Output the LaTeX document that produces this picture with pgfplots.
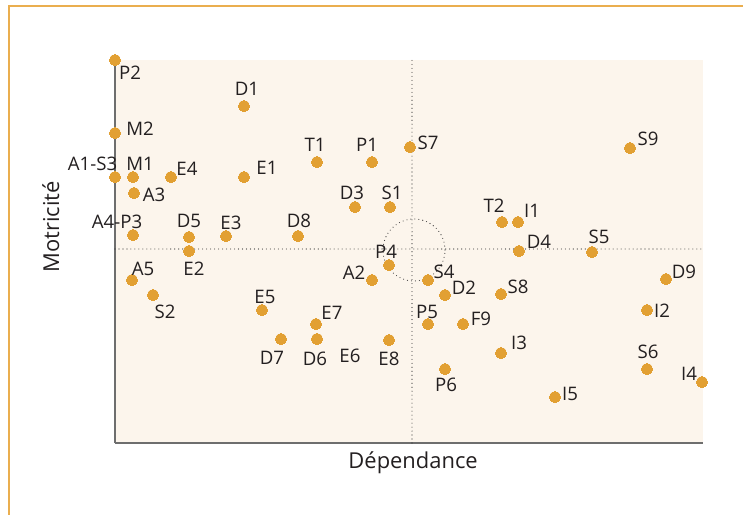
\documentclass[border=0pt]{standalone}
\usepackage{fontspec}
\setmainfont{Open Sans}
\usepackage{pgfplots}
\usepackage{pgfplotstable}
\pgfplotsset{compat=1.18}
\definecolor{dotc}{RGB}{226,160,51}
\definecolor{cream}{RGB}{252,245,236}
\definecolor{framec}{RGB}{234,174,79}
\definecolor{axisgray}{RGB}{110,110,110}
\definecolor{txt}{RGB}{35,31,32}
\definecolor{dotline}{RGB}{51,51,51}
\pgfplotstableread{
name x y lx ly
P2 0 383 15 370
D1 129 337 132 354
M2 0 310 25 314
A1-S3 0 266 -22.5 279
M1 18 266 25 279
E4 56 266 72 274
E1 129 266 152 275
A3 19 250 39 248
A4-P3 18 208 2 221
D5 74 206 74 222
E3 111 207 116 220
D8 183 207 184 222
E2 74 192 79 174
T1 202 281 200 298
P1 257 281 252 298
S7 295 296 313 300
D3 240 236 237 250
S1 275 236 277 250
P4 274 178 271 191
A2 257 163 239 170
S4 313 163 329 171
D2 330 148 349 155
S8 386 149 403 156
T2 387 221 379 237
I1 403 221 417 232
D4 404 192 424 201
S5 477 191 484 206
S9 515 295 533 304
D9 551 164 569 171
I2 532 133 547 132
P5 313 119 312 131
F9 348 119 366 124
I3 386 90 404 100
S6 532 74 533 91
P6 330 74 331 58
I4 587 61 574 69
I5 440 46 455 49
A5 17 163 28 174
S2 38 148 50 131
E5 147 133 150 146
E7 201 119 217 130
D7 166 104 157 85
D6 202 104 200 84
E6 202 104 235 87
E8 274 103 274 84
}\pts
\begin{document}
\begin{tikzpicture}
\useasboundingbox (0,0) rectangle (743bp,-515bp);
\draw[color=framec, line width=2bp] (9bp,-515bp) -- (9bp,-5.5bp) -- (743bp,-5.5bp);
\begin{axis}[
  at={(115bp,-443bp)}, anchor=south west,
  scale only axis, width=588bp, height=383bp,
  xmin=0, xmax=588, ymin=0, ymax=383,
  axis x line*=bottom, axis y line*=left,
  xtick=\empty, ytick=\empty,
  axis line style={draw=axisgray, line width=1.3pt},
  axis background/.style={fill=cream},
  clip=false,
  xlabel={Dépendance}, ylabel={Motricité},
  xlabel style={at={(axis description cs:0.507,-0.0653)}, anchor=base, font=\fontsize{22}{24}\selectfont, text=txt},
  ylabel style={at={(axis description cs:-0.0952,0.564)}, anchor=base, rotate=0, font=\fontsize{22}{24}\selectfont, text=txt},
]
\addplot[only marks, mark=*, mark size=5.6bp, color=dotc, mark options={fill=dotc, draw=dotc, line width=0pt}] table[x=x, y=y] {\pts};
\addplot[draw=none, mark=none, nodes near coords, point meta=explicit symbolic,
  nodes near coords align={center},
  every node near coord/.append style={font=\fontsize{18.7}{20}\selectfont, text=txt, inner sep=0pt}]
  table[x=lx, y=ly, meta=name] {\pts};
\draw[dotline, line width=1.1pt, dash pattern=on 0pt off 4pt, line cap=round] (axis cs:297,0) -- (axis cs:297,383);
\draw[dotline, line width=1.1pt, dash pattern=on 0pt off 4pt, line cap=round] (axis cs:0,194) -- (axis cs:588,194);
\draw[dotline, line width=1.1pt, dash pattern=on 0pt off 4pt, line cap=round] (axis cs:299,193) circle[radius=31bp];
\end{axis}
\end{tikzpicture}
\end{document}
